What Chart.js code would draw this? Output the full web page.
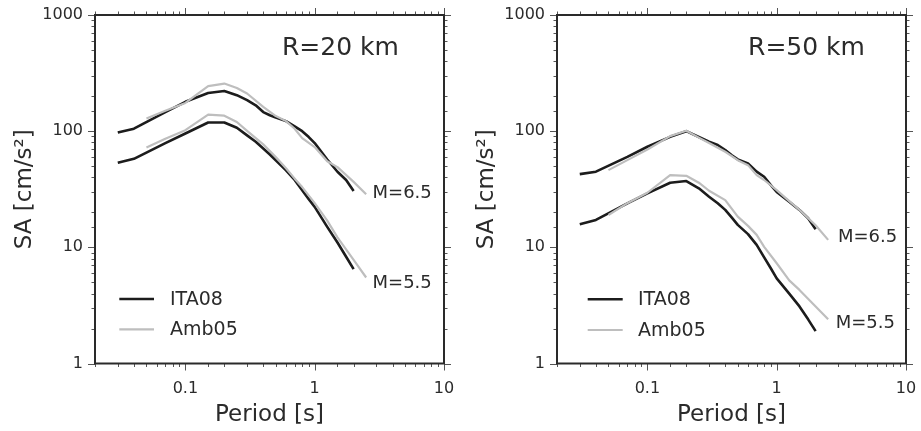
<!DOCTYPE html>
<html><head><meta charset="utf-8">
<script src="https://cdn.jsdelivr.net/npm/chart.js@4.4.1/dist/chart.umd.min.js"></script>
<style>
html,body{margin:0;padding:0;background:#fff;width:921px;height:431px;overflow:hidden}
canvas{position:absolute;top:0}
</style></head>
<body>
<canvas id="c1" width="460" height="431" style="left:0px"></canvas>
<canvas id="c2" width="459" height="431" style="left:462px"></canvas>
<script>
// ---- data (period [s], SA [cm/s^2]) ----
const periodsITA08 = [0.03,0.04,0.07,0.1,0.15,0.2,0.25,0.3,0.35,0.4,0.45,0.5,0.6,0.7,0.8,0.9,1.0,1.25,1.5,1.75,2.0];
const periodsAmb05 = [0.05,0.07,0.1,0.15,0.2,0.25,0.3,0.4,0.5,0.6,0.7,0.8,1.0,1.25,1.5,2.0,2.5];

const r20_ITA08_M65 = [97.5,105,146,179,213,222,204,185,167,146,137,131,122,110,100,89,79,57,44.7,38,30.5];
const r20_ITA08_M55 = [53.4,57.8,79,95.5,118.8,118.8,107,92,81,71,63,56,46,38,31,26,22.3,15,11,8.3,6.5];
const r20_Amb05_M65 = [128.6,150,175,244,257,235,211,162,135,122,105,87,73,55,49,36.6,28.6];
const r20_Amb05_M55 = [72.4,86,102,139,136,120,100.6,77,60,48,39,33,24,17,12.2,7.8,5.5];

const r50_ITA08_M65 = [42.7,44.8,60,73.4,89.4,100,89,81,76,68.7,62,57.1,52.7,44.8,40.5,34.3,30,24.7,21,17.8,14.3];
const r50_ITA08_M55 = [15.8,17.2,23.9,29.1,36,37.2,32.2,27.3,24,21,18,15.6,13,10.5,8.2,6.6,5.4,4.0,3.1,2.4,1.9];
const r50_Amb05_M65 = [46.2,56.3,69.6,90.6,100.7,88,79,66.5,56.3,51,41.9,38,31.1,25,21,15.5,11.6];
const r50_Amb05_M55 = [19.0,24,29.5,41.9,41.3,36,30.7,25.5,18.4,15.3,12.8,10.1,7.3,5.2,4.3,3.1,2.4];

const xTickDecades = [0.1, 1, 10];
const yTickDecades = [1, 10, 100, 1000];
const seriesNames = ['ITA08', 'Amb05'];
const magLabels = ['M=6.5', 'M=5.5'];

const FONT = "'DejaVu Sans', 'Liberation Sans', Arial, sans-serif";
const TXT = '#2b2b2b';
const BLACK = '#1c1c1c';
const GRAY = '#bebebe';

function isDecade(v){ const l = Math.log10(v); return Math.abs(l - Math.round(l)) < 1e-6; }
function pts(xs, ys){ return xs.map((t,i)=>({x:t, y:ys[i]})); }

const gmtPlugin = {
  id: 'gmt',
  afterDraw(chart, args, o) {
    const {ctx, chartArea:a, scales:{x, y}} = chart;
    ctx.save();
    ctx.strokeStyle = '#555'; ctx.lineWidth = 1;
    ctx.beginPath();
    x.ticks.forEach(t => {
      const p = Math.round(x.getPixelForValue(t.value)) + 0.5;
      if (p < a.left - 1 || p > a.right + 1) return;
      const L = isDecade(t.value) ? 7 : 3.5;
      ctx.moveTo(p, a.bottom); ctx.lineTo(p, a.bottom + L);
      ctx.moveTo(p, a.top); ctx.lineTo(p, a.top - L);
    });
    y.ticks.forEach(t => {
      const p = Math.round(y.getPixelForValue(t.value)) + 0.5;
      if (p < a.top - 1 || p > a.bottom + 1) return;
      const L = isDecade(t.value) ? 7 : 3.5;
      ctx.moveTo(a.left, p); ctx.lineTo(a.left - L, p);
      ctx.moveTo(a.right, p); ctx.lineTo(a.right + L, p);
    });
    ctx.stroke();
    ctx.strokeStyle = '#2a2a2a'; ctx.lineWidth = 2;
    ctx.strokeRect(a.left, a.top, a.width, a.height);
    ctx.fillStyle = TXT;
    ctx.font = '25px ' + FONT;
    ctx.textAlign = 'center'; ctx.textBaseline = 'middle';
    ctx.fillText(o.title, x.getPixelForValue(o.titleAt[0]), y.getPixelForValue(o.titleAt[1]));
    ctx.font = '18px ' + FONT; ctx.textAlign = 'left';
    o.mags.forEach((m, i) => {
      ctx.fillText(magLabels[i], x.getPixelForValue(m[0]), y.getPixelForValue(m[1]));
    });
    ctx.font = '19px ' + FONT;
    const cols = [BLACK, GRAY], widths = [2.5, 2.2];
    seriesNames.forEach((n, i) => {
      const yy = a.top + o.legend.y[i];
      ctx.strokeStyle = cols[i]; ctx.lineWidth = widths[i];
      ctx.beginPath();
      ctx.moveTo(a.left + o.legend.x0, yy); ctx.lineTo(a.left + o.legend.x1, yy);
      ctx.stroke();
      ctx.fillStyle = TXT;
      ctx.fillText(n, a.left + o.legend.tx, yy + 1);
    });
    ctx.restore();
  }
};

function makePanel(id, ita65, ita55, amb65, amb55, padRight, gmt) {
  const ds = (data, color, w) => ({
    data, borderColor: color, borderWidth: w, pointRadius: 0, tension: 0,
    fill: false, borderJoinStyle: 'round', borderCapStyle: 'butt'
  });
  return new Chart(document.getElementById(id), {
    type: 'line',
    data: {
      datasets: [
        ds(pts(periodsAmb05, amb65), GRAY, 2.2),
        ds(pts(periodsAmb05, amb55), GRAY, 2.2),
        ds(pts(periodsITA08, ita65), BLACK, 2.6),
        ds(pts(periodsITA08, ita55), BLACK, 2.6)
      ]
    },
    options: {
      responsive: false, animation: false, devicePixelRatio: 1,
      layout: { padding: { left: 0, top: 15, right: padRight, bottom: 0 } },
      plugins: { legend: { display: false }, tooltip: { enabled: false }, gmt },
      scales: {
        x: {
          type: 'logarithmic', min: 0.02, max: 10,
          grid: { display: false, drawTicks: false }, border: { display: false },
          ticks: {
            autoSkip: false, maxRotation: 0, padding: 16, color: TXT,
            font: { family: FONT, size: 16 },
            callback: v => xTickDecades.some(d => Math.abs(d - v) < 1e-9) ? String(v) : ''
          },
          title: { display: true, text: 'Period [s]', color: TXT,
            font: { family: FONT, size: 23 }, padding: { top: 0, bottom: 2 } },
          afterFit: s => { s.height = 67.5; s.paddingLeft = 0; s.paddingRight = 0; }
        },
        y: {
          type: 'logarithmic', min: 1, max: 1000,
          grid: { display: false, drawTicks: false }, border: { display: false },
          ticks: {
            autoSkip: false, padding: 12, color: TXT,
            font: { family: FONT, size: 16 },
            callback: v => yTickDecades.some(d => Math.abs(d - v) < 1e-9) ? String(v) : ''
          },
          title: { display: true, text: 'SA [cm/s²]', color: TXT,
            font: { family: FONT, size: 23 }, padding: { top: 11, bottom: 0 } },
          afterFit: s => { s.width = 95; s.paddingTop = 0; s.paddingBottom = 0; }
        }
      }
    },
    plugins: [gmtPlugin]
  });
}

makePanel('c1', r20_ITA08_M65, r20_ITA08_M55, r20_Amb05_M65, r20_Amb05_M55, 16, {
  title: 'R=20 km', titleAt: [1.58, 510],
  mags: [[2.8, 29.3], [2.8, 4.9]],
  legend: { x0: 24.3, x1: 59, tx: 75, y: [284, 314.3] }
});
makePanel('c2', r50_ITA08_M65, r50_ITA08_M55, r50_Amb05_M65, r50_Amb05_M55, 15, {
  title: 'R=50 km', titleAt: [1.70, 510],
  mags: [[2.98, 12.3], [2.86, 2.23]],
  legend: { x0: 30.7, x1: 65.7, tx: 81, y: [284.3, 315] }
});
</script>
</body></html>
